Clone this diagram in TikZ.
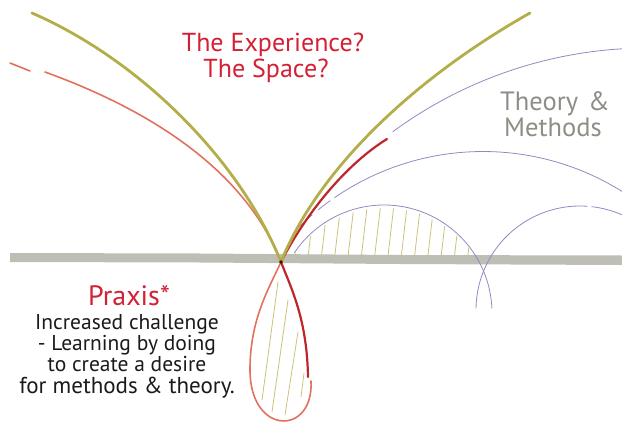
\documentclass[tikz,border=0pt]{standalone}
\usepackage{fontspec}
\setmainfont{PT Sans}
\definecolor{olivec}{HTML}{B3AE4A}
\definecolor{hatchc}{HTML}{C9C378}
\definecolor{lightred}{HTML}{E0725F}
\definecolor{darkred}{HTML}{BE2629}
\definecolor{titlered}{HTML}{D42035}
\definecolor{bluec}{HTML}{8C8CC2}
\definecolor{bandgray}{HTML}{BEBEB6}
\definecolor{graytext}{HTML}{8E8E86}
\definecolor{inkc}{HTML}{1A1A1A}
\begin{document}
\begin{tikzpicture}[x=1pt,y=-1pt,
  olivestroke/.style={draw=olivec, line width=2.8pt, line cap=round},
  lightstroke/.style={draw=lightred, line width=1.6pt, line cap=round},
  darkstroke/.style={draw=darkred, line width=2.2pt, line cap=round},
  bluestroke/.style={draw=bluec, line width=0.8pt, line cap=round},
  hatchstroke/.style={draw=hatchc, line width=0.8pt},
  redtext/.style={text=titlered, inner sep=0pt, anchor=base, text height=16pt, text depth=4pt, font=\fontsize{26}{28}\selectfont},
  graylabel/.style={text=graytext, inner sep=0pt, anchor=base, text height=15pt, text depth=4pt, font=\fontsize{26.5}{28}\selectfont},
  inktext/.style={text=inkc, inner sep=0pt, anchor=base, text height=13pt, text depth=5pt, font=\fontsize{21.5}{23}\selectfont}]
\useasboundingbox (0,0) rectangle (622,423);

% ground band
\fill[bandgray] (10,253) -- (200,253.5) -- (400,255) -- (622,255.5) -- (622,265) -- (400,264) -- (200,262.5) -- (10,262) -- cycle;

\coordinate (X) at (281,262);

% hatching above the ground
\begin{scope}
  \clip (250,255) rectangle (500,150);
  \clip (384,318) circle[radius=110];
  \foreach \x in {295,308.3,...,470} \draw[hatchstroke] (\x,255) -- ++(7,-60);
\end{scope}

% hatching inside the loop
\draw[hatchstroke] (278,282) -- (262,400);
\draw[hatchstroke] (288,300) -- (272,412);
\draw[hatchstroke] (298,332) -- (285,415);
\draw[hatchstroke] (304,373) -- (301,397);

% blue arcs
\draw[bluestroke] (384,313) ++(214:108) arc[start angle=214, end angle=357.4, radius=108];
\draw[bluestroke] (483,413.5) ++(224:262) arc[start angle=224, end angle=229.3, radius=262];
\draw[bluestroke] (483,413.5) ++(231:262) arc[start angle=231, end angle=234.3, radius=262];
\draw[bluestroke] (483,413.5) ++(235.5:262) arc[start angle=235.5, end angle=302.3, radius=262];
\draw[bluestroke] (648,479) ++(233.7:431) arc[start angle=233.7, end angle=266.6, radius=431];
\draw[bluestroke] (580,310) ++(181:104) arc[start angle=181, end angle=274, radius=104];
\draw[bluestroke] (580,310) ++(276.5:104) arc[start angle=276.5, end angle=293.8, radius=104];

% red curves
\coordinate (RL0) at (10,63);
\coordinate (RL1) at (30,71);
\coordinate (RL2) at (45,72);
\coordinate (RR) at (387,139);
\coordinate (LD) at (308,377);
\coordinate (LL) at (311,381);
\coordinate (LW) at (250,370);
\draw[lightstroke] (RL0) -- (RL1);
\draw[lightstroke] (RL2) .. controls (150,110) and (245,170) .. (X);
\draw[lightstroke] (LL) .. controls (314,436) and (250,436) .. (LW);
\draw[lightstroke] (LW) .. controls (250,320) and (268,290) .. (X);
\draw[darkstroke] (X) .. controls (292,290) and (307,320) .. (LD);
\draw[darkstroke] (X) .. controls (305,215) and (345,165) .. (RR);

% olive curves
\coordinate (OL) at (32,13);
\coordinate (OR) at (530,13);
\draw[olivestroke] (OL) .. controls (140,60) and (240,160) .. (X);
\draw[olivestroke] (X) .. controls (320,165) and (420,75) .. (OR);
\fill[black!70!darkred] (X) circle[radius=1.8];

% texts
\node[redtext] (t1) at (273,51) {The Experience?};
\node[redtext] (t2) at (266,77) {The Space?};
\node[graylabel] (g1) at (555,110) {Theory\hspace{10pt}\&};
\node[graylabel] (g2) at (553,136) {Methods};
\node[redtext, text height=19pt, text depth=3pt, font=\fontsize{28}{30}\selectfont] (p0) at (129,305) {Praxis*};
\node[inktext] (p1) at (127,329) {Increased challenge};
\node[inktext] (p2) at (127,350) {- Learning by doing};
\node[inktext] (p3) at (127,371) {to create a desire};
\node[inktext, font=\fontsize{23}{25}\selectfont] (p4) at (127,393) {for methods \& theory.};
\end{tikzpicture}
\end{document}
